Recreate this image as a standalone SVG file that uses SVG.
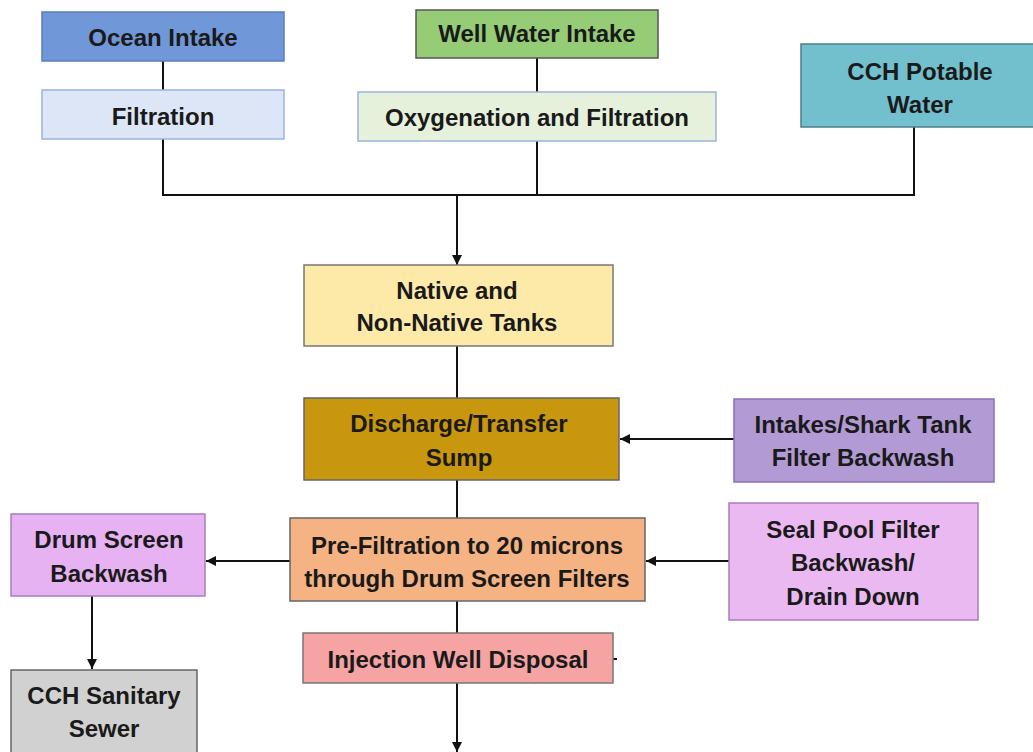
<svg xmlns="http://www.w3.org/2000/svg" width="1033" height="752" viewBox="0 0 1033 752">
<defs>
<marker id="arr" viewBox="0 0 10 10" refX="10" refY="5" markerWidth="10" markerHeight="10" markerUnits="userSpaceOnUse" orient="auto">
<path d="M0,0 L10,5 L0,10 z" fill="#111"/>
</marker>
<style>
.box{stroke-width:1.5}
.t{font-family:"Liberation Sans",Arial,sans-serif;font-weight:bold;font-size:24px;fill:#1a1a1a;text-anchor:middle;dominant-baseline:central}
.c{fill:none;stroke:#111;stroke-width:2}
</style>
</defs>
<rect width="1033" height="752" fill="#ffffff"/>
<g id="connectors">
<line class="c" x1="163" y1="61" x2="163" y2="90"/>
<line class="c" x1="537" y1="58" x2="537" y2="92"/>
<polyline class="c" points="163,139 163,195 914,195 914,127"/>
<line class="c" x1="537" y1="141" x2="537" y2="195"/>
<line class="c" x1="457" y1="195" x2="457" y2="265" marker-end="url(#arr)"/>
<line class="c" x1="457" y1="346" x2="457" y2="398"/>
<line class="c" x1="734" y1="439" x2="620" y2="439" marker-end="url(#arr)"/>
<line class="c" x1="457" y1="480" x2="457" y2="518"/>
<line class="c" x1="729" y1="561" x2="646" y2="561" marker-end="url(#arr)"/>
<line class="c" x1="290" y1="561" x2="206" y2="561" marker-end="url(#arr)"/>
<line class="c" x1="92" y1="596" x2="92" y2="669" marker-end="url(#arr)"/>
<line class="c" x1="457" y1="601" x2="457" y2="633"/>
<line class="c" x1="457" y1="683" x2="457" y2="752" marker-end="url(#arr)"/>
<line class="c" x1="613" y1="659" x2="617" y2="659" stroke-width="1.5"/>
</g>
<g id="ocean-intake">
<rect class="box" x="42" y="12" width="242" height="49" fill="#7097d8" stroke="#5a7fc0"/>
<text class="t" x="163" y="37">Ocean Intake</text>
</g>
<g id="filtration">
<rect class="box" x="42" y="90" width="242" height="49" fill="#dde6f6" stroke="#9ab3e0"/>
<text class="t" x="163" y="116">Filtration</text>
</g>
<g id="well-water-intake">
<rect class="box" x="416" y="10" width="242" height="48" fill="#95cc75" stroke="#555"/>
<text class="t" x="537" y="33">Well Water Intake</text>
</g>
<g id="oxygenation">
<rect class="box" x="358" y="92" width="358" height="49" fill="#e6f1dc" stroke="#9ab3e0"/>
<text class="t" x="537" y="117">Oxygenation and Filtration</text>
</g>
<g id="cch-potable">
<rect class="box" x="801" y="44" width="240" height="83" fill="#72c0cd" stroke="#4d7d88"/>
<text class="t" x="920" y="71">CCH Potable</text>
<text class="t" x="920" y="104">Water</text>
</g>
<g id="native-tanks">
<rect class="box" x="304" y="265" width="309" height="81" fill="#fde9a8" stroke="#777"/>
<text class="t" x="457" y="290">Native and</text>
<text class="t" x="457" y="322">Non-Native Tanks</text>
</g>
<g id="sump">
<rect class="box" x="304" y="398" width="315" height="82" fill="#c9970d" stroke="#666"/>
<text class="t" x="459" y="423">Discharge/Transfer</text>
<text class="t" x="459" y="457">Sump</text>
</g>
<g id="intakes-shark">
<rect class="box" x="734" y="399" width="260" height="83" fill="#b29ad5" stroke="#8a70b5"/>
<text class="t" x="863" y="424">Intakes/Shark Tank</text>
<text class="t" x="863" y="457">Filter Backwash</text>
</g>
<g id="pre-filtration">
<rect class="box" x="290" y="518" width="355" height="83" fill="#f5b283" stroke="#666"/>
<text class="t" x="467" y="545">Pre-Filtration to 20 microns</text>
<text class="t" x="467" y="578">through Drum Screen Filters</text>
</g>
<g id="seal-pool">
<rect class="box" x="729" y="503" width="249" height="117" fill="#ebb9f1" stroke="#a87cc0"/>
<text class="t" x="853" y="529">Seal Pool Filter</text>
<text class="t" x="853" y="562">Backwash/</text>
<text class="t" x="853" y="596">Drain Down</text>
</g>
<g id="drum-screen-backwash">
<rect class="box" x="11" y="514" width="194" height="82" fill="#e6b2f1" stroke="#a87cc0"/>
<text class="t" x="109" y="539">Drum Screen</text>
<text class="t" x="109" y="573">Backwash</text>
</g>
<g id="cch-sanitary">
<rect class="box" x="11" y="670" width="186" height="90" fill="#d1d1d1" stroke="#666"/>
<text class="t" x="104" y="695">CCH Sanitary</text>
<text class="t" x="104" y="728">Sewer</text>
</g>
<g id="injection-well">
<rect class="box" x="303" y="633" width="310" height="50" fill="#f5a3a3" stroke="#777"/>
<text class="t" x="458" y="659">Injection Well Disposal</text>
</g>
</svg>
